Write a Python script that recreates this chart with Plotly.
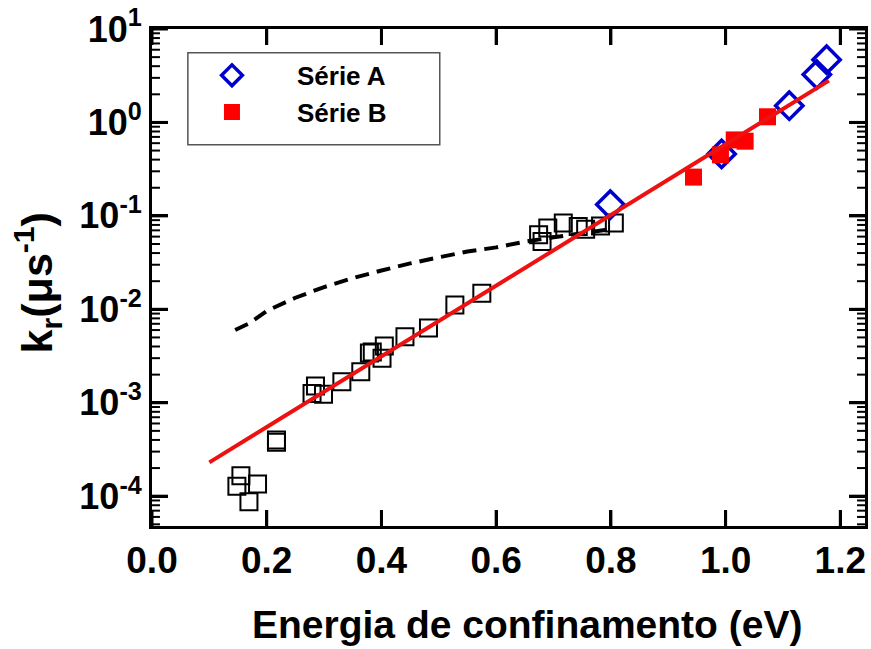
import plotly.graph_objects as go

# ---- data ----
open_x = [0.148, 0.155, 0.169, 0.184, 0.217, 0.217, 0.279, 0.285, 0.299, 0.331, 0.364,
          0.379, 0.384, 0.401, 0.405, 0.441, 0.482, 0.528, 0.575,
          0.674, 0.680, 0.690, 0.717, 0.743, 0.756, 0.782, 0.806]
open_y = [1.28e-4, 1.65e-4, 8.7e-5, 1.35e-4, 4.0e-4, 3.77e-4, 1.26e-3, 1.51e-3, 1.23e-3, 1.68e-3, 2.15e-3,
          3.4e-3, 3.5e-3, 3.0e-3, 4.05e-3, 5.1e-3, 6.3e-3, 1.11e-2, 1.49e-2,
          0.0627, 0.0532, 0.074, 0.0838, 0.077, 0.072, 0.078, 0.0838]

serieA_x = [0.799, 0.993, 1.111, 1.159, 1.176]
serieA_y = [0.132, 0.46, 1.51, 3.25, 4.7]

serieB_x = [0.944, 0.991, 1.015, 1.034, 1.073]
serieB_y = [0.26, 0.45, 0.65, 0.63, 1.15]

fit_x = [0.10, 1.18]
fit_y = [2.3e-4, 2.8]

dash_x = [0.145, 0.17, 0.2, 0.25, 0.3, 0.35, 0.4, 0.45, 0.5, 0.55, 0.6, 0.65, 0.7, 0.75, 0.8]
dash_y = [6.0e-3, 7.1e-3, 9.6e-3, 1.33e-2, 1.73e-2, 2.16e-2, 2.6e-2, 3.1e-2, 3.6e-2,
          4.15e-2, 4.6e-2, 5.3e-2, 5.9e-2, 6.5e-2, 7.2e-2]

x_ticks = [0.0, 0.2, 0.4, 0.6, 0.8, 1.0, 1.2]
y_ticks = [1e-4, 1e-3, 1e-2, 1e-1, 1e0, 1e1]
y_ticktext = ["10<sup>-4</sup>", "10<sup>-3</sup>", "10<sup>-2</sup>",
              "10<sup>-1</sup>", "10<sup>0</sup>", "10<sup>1</sup>"]

x_title = "Energia de confinamento (eV)"
y_title = "k<sub>r</sub>(μs<sup>-1</sup>)"

FONT = "Liberation Sans, Arial, sans-serif"
X_RANGE = [0, 1.243]
Y_RANGE = [-4.319, 1.0]
Y_LO, Y_HI = 10 ** Y_RANGE[0], 10 ** Y_RANGE[1]
y_minor = [m * d for d in [1e-5, 1e-4, 1e-3, 1e-2, 1e-1, 1e0] for m in range(2, 10)
           if Y_LO <= m * d <= Y_HI]

W, H = 871, 649
ML, MR, MT, MB = 152, 3, 28, 123
PW, PH = W - ML - MR, H - MT - MB

fig = go.Figure()
fig.add_trace(go.Scatter(x=open_x, y=open_y, mode="markers", showlegend=False,
                         marker=dict(symbol="square-open", size=17, color="black",
                                     line=dict(width=2, color="black"))))
fig.add_trace(go.Scatter(x=dash_x, y=dash_y, mode="lines", showlegend=False,
                         line=dict(color="black", width=4, dash="14px,8px")))
fig.add_trace(go.Scatter(x=serieA_x, y=serieA_y, mode="markers", name="Série A",
                         marker=dict(symbol="diamond-open", size=21, color="#0000cc",
                                     line=dict(width=3.5, color="#0000cc"))))
fig.add_trace(go.Scatter(x=serieB_x, y=serieB_y, mode="markers", name="Série B",
                         marker=dict(symbol="square", size=17, color="#ff0000",
                                     line=dict(width=0))))
fig.add_trace(go.Scatter(x=fit_x, y=fit_y, mode="lines", showlegend=False,
                         line=dict(color="#ee1111", width=4)))

# legend frame
fig.add_shape(type="rect", xref="paper", yref="paper",
              x0=0.0503, x1=0.4036, y0=0.767, y1=0.952,
              line=dict(color="#555555", width=1.5), fillcolor="rgba(0,0,0,0)", layer="above")

# inward tick marks (bottom/top major, left/right major + minor)
MAJ, MIN = 16, 8
tick_line = dict(color="black", width=3)
for tv in x_ticks:
    fig.add_shape(type="line", xref="x", yref="paper", x0=tv, x1=tv, y0=0, y1=MAJ / PH,
                  line=tick_line, layer="above")
    fig.add_shape(type="line", xref="x", yref="paper", x0=tv, x1=tv, y0=1, y1=1 - MAJ / PH,
                  line=tick_line, layer="above")
for tv in y_ticks:
    fig.add_shape(type="line", xref="paper", yref="y", x0=0, x1=MAJ / PW, y0=tv, y1=tv,
                  line=tick_line, layer="above")
    fig.add_shape(type="line", xref="paper", yref="y", x0=1, x1=1 - MAJ / PW, y0=tv, y1=tv,
                  line=tick_line, layer="above")
for tv in y_minor:
    fig.add_shape(type="line", xref="paper", yref="y", x0=0, x1=MIN / PW, y0=tv, y1=tv,
                  line=dict(color="black", width=2), layer="above")
    fig.add_shape(type="line", xref="paper", yref="y", x0=1, x1=1 - MIN / PW, y0=tv, y1=tv,
                  line=dict(color="black", width=2), layer="above")

# axis titles as annotations for precise placement
fig.add_annotation(text=x_title, xref="paper", yref="paper", x=0.5265, y=-0.199,
                   xanchor="center", yanchor="middle", showarrow=False,
                   font=dict(size=39, family=FONT, weight="bold", color="black"))
fig.add_annotation(text=y_title, xref="paper", yref="paper", x=-0.16, y=0.49,
                   xanchor="center", yanchor="middle", showarrow=False, textangle=-90,
                   font=dict(size=43, family=FONT, weight="bold", color="black"))

fig.update_layout(
    width=W, height=H,
    margin=dict(l=ML, r=MR, t=MT, b=MB),
    paper_bgcolor="white", plot_bgcolor="white",
    font=dict(family=FONT, color="black"),
    legend=dict(x=0.021, y=0.954, xanchor="left", yanchor="top",
                bgcolor="rgba(0,0,0,0)", borderwidth=0,
                font=dict(size=26, family=FONT, weight="bold"),
                itemwidth=120),
    xaxis=dict(
        range=X_RANGE, tickmode="array", tickvals=x_ticks, tickformat=".1f",
        ticks="inside", ticklen=MAJ, tickwidth=3, tickcolor="black",
        showline=True, linewidth=3, linecolor="black", mirror="ticks",
        showgrid=False, zeroline=False,
        tickfont=dict(size=37, family=FONT, weight="bold"),
    ),
    yaxis=dict(
        type="log", range=Y_RANGE, tickmode="array", tickvals=y_ticks, ticktext=y_ticktext,
        ticks="inside", ticklen=MAJ, tickwidth=3, tickcolor="black",
        showline=True, linewidth=3, linecolor="black", mirror="ticks",
        showgrid=False, zeroline=False,
        tickfont=dict(size=36, family=FONT, weight="bold"),
    ),
)

fig.write_html("out.html")
